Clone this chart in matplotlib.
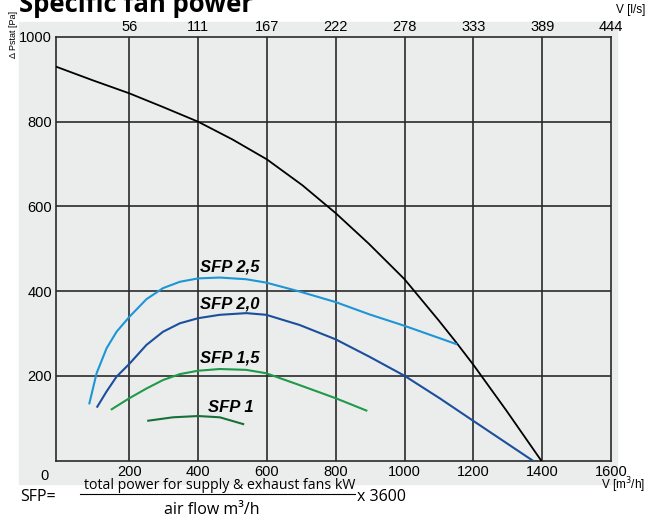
import numpy as np
import matplotlib.pyplot as plt
from matplotlib.patches import Rectangle

# system curve (black)
sys_x = [-13, 93, 200, 297, 400, 500, 600, 703, 800, 896, 1000, 1100, 1150, 1200, 1295, 1397]
sys_p = [930, 898, 867, 835, 800, 758, 711, 650, 584, 512, 428, 330, 279, 226, 119, 0]

# SFP curves
sfp25_x = [84, 105, 134, 163, 200, 250, 298, 347, 400, 463, 540, 598, 695, 800, 898, 1000, 1150]
sfp25_p = [135, 206, 265, 304, 339, 381, 407, 422, 430, 432, 428, 420, 399, 374, 345, 318, 275]

sfp20_x = [107, 134, 163, 200, 250, 298, 347, 400, 463, 540, 598, 695, 800, 898, 1000, 1102, 1199, 1372]
sfp20_p = [127, 163, 198, 228, 273, 304, 324, 336, 344, 348, 344, 320, 286, 245, 200, 147, 94, 0]

sfp15_x = [149, 200, 250, 298, 347, 400, 463, 540, 598, 695, 800, 889]
sfp15_p = [121, 147, 170, 190, 204, 212, 216, 214, 206, 178, 147, 118]

sfp10_x = [255, 327, 400, 463, 531]
sfp10_p = [94, 102, 105, 102, 86]

xticks = [200, 400, 600, 800, 1000, 1200, 1400, 1600]
yticks = [200, 400, 600, 800, 1000]
top_labels = ['56', '111', '167', '222', '278', '333', '389', '444']

plt.rcParams['font.family'] = ['Liberation Sans', 'DejaVu Sans']

fig = plt.figure(figsize=(6.46, 5.18), dpi=100)
# grey panel behind the chart and its tick labels
fig.patches.append(Rectangle((19/646, 1-484/518), 598/646, 462/518,
                             transform=fig.transFigure, color='#ebecec', zorder=-5))

ax = fig.add_axes([56/646, 1-460.5/518, 555/646, 423.5/518])
ax.set_facecolor('#ebecec')
ax.set_xlim(-13, 1600)
ax.set_ylim(0, 1000)

for v in xticks[:-1]:
    ax.axvline(v, color='#2a2a2a', lw=1.2, zorder=1)
for v in yticks[:-1]:
    ax.axhline(v, color='#2a2a2a', lw=1.2, zorder=1)
for s in ax.spines.values():
    s.set_color('#2a2a2a')
    s.set_linewidth(1.2)

ax.plot(sys_x, sys_p, color='black', lw=1.3, zorder=3)
ax.plot(sfp25_x, sfp25_p, color='#1c96d6', lw=1.5, zorder=3)
ax.plot(sfp20_x, sfp20_p, color='#1b4f9e', lw=1.5, zorder=3)
ax.plot(sfp15_x, sfp15_p, color='#1f9a48', lw=1.5, zorder=3)
ax.plot(sfp10_x, sfp10_p, color='#17703a', lw=1.5, zorder=3)

lab = dict(fontsize=12, fontweight='bold', fontstyle='italic', va='center', zorder=4)
ax.text(405, 457, 'SFP 2,5', **lab)
ax.text(405, 370, 'SFP 2,0', **lab)
ax.text(405, 242, 'SFP 1,5', **lab)
ax.text(428, 126, 'SFP 1', **lab)

ax.set_xticks(xticks)
ax.set_yticks(yticks)
ax.tick_params(length=0, labelsize=10.5, pad=3)
ax.text(-45, -20, '0', fontsize=10.5, ha='center', va='top')

# l/s scale on top
top = ax.twiny()
top.set_xlim(-13, 1600)
top.set_xticks(xticks)
top.set_xticklabels(top_labels)
top.tick_params(length=0, labelsize=10.5, pad=2)
for s in top.spines.values():
    s.set_visible(False)

fig.text(645/646, 1-10/518, 'V [l/s]', fontsize=8.5, ha='right', va='center')
fig.text(645/646, 1-485/518, 'V [m$^3$/h]', fontsize=8.5, ha='right', va='center')
fig.text(13/646, 1-34/518, '\u0394 Pstat [Pa]', fontsize=6.5, rotation=90, ha='center', va='center')

fig.text(19/646, 1-12/518, 'Specific fan power', fontsize=18.5, fontweight='bold',
         family='Open Sans', ha='left', va='baseline')

# SFP formula
ff = dict(family='Open Sans', va='center')
fig.text(20/646, 1-497/518, 'SFP=', ha='left', fontsize=11.5, **ff)
fig.text(220/646, 1-485.5/518, 'total power for supply & exhaust fans kW', ha='center', fontsize=10.2, **ff)
fig.text(212/646, 1-510/518, 'air flow m\u00b3/h', ha='center', fontsize=11.5, **ff)
fig.text(357/646, 1-497/518, 'x 3600', ha='left', fontsize=11.5, **ff)
fig.add_artist(plt.Line2D([80/646, 355/646], [1-494/518, 1-494/518], color='black', lw=0.8))

fig.savefig('out.png', dpi=100)
